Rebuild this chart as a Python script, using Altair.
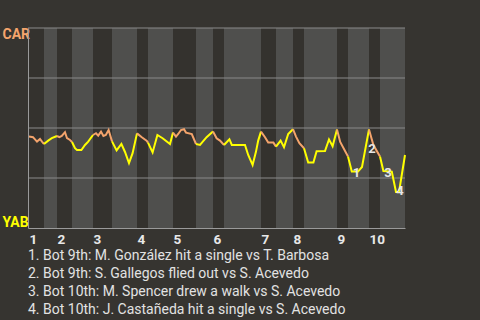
import altair as alt
import pandas as pd

# ---- data ----
# play index (x) and CAR win probability in percent (y)
play = [0, 1, 2, 2.75, 3.25, 3.75,
        4.8, 5.7, 7,
        7.6, 8.2, 9, 9.5, 10.25, 10.75,
        11.5, 12, 13.1, 14, 14.8, 16,
        16.75, 17.3, 18, 18.6, 19.2, 19.9, 20.75,
        21.9, 23.1, 24, 25, 25.9, 27,
        28.2, 29.4, 29.75,
        30.9, 32.1, 33.4, 35.25, 36,
        36.75, 37.3, 38, 38.75, 39.25, 40.7, 41.75,
        42.75, 44.4, 46,
        46.9, 47.75, 48.75,
        50.1, 50.7, 54, 54.8, 55.9, 56.75, 57.3, 58,
        59, 59.8, 61.1, 61.75,
        62.9, 63.75, 64.8, 66,
        66.75, 67.6, 68.75,
        69.8, 71.1, 71.9, 74, 75, 75.9, 77,
        77.8, 79.75,
        80.7, 82.25, 83.25, 85,
        86.1, 87.75,
        88.6, 90.7, 91.75, 92.5, 94]
car_pct = [45.7, 45.4, 43.2, 44.5, 43.2, 42,
           43.7, 44.9, 46,
           45.4, 46, 47.9, 44.9, 44, 43,
           39.9, 39, 39, 41.5, 43.2, 46.5,
           47.4, 46.2, 48.2, 46, 46.5, 49, 43.3,
           38.8, 42, 38, 32.5, 37.4, 47.3,
           45.4, 43.7, 42.7,
           37.8, 46.5, 44.9, 42, 47.7,
           45.7, 47, 49, 49.4, 47.7, 47, 42,
           41.5, 45.4, 48.2,
           44.9, 43.7, 41.5,
           44.4, 41.5, 41.5, 36.5, 31.5, 38.2, 43.7, 48.2,
           45.4, 42.7, 42.7, 40.7,
           43.7, 40.4, 47, 49.4,
           45.7, 42.4, 39.9,
           32.7, 32.7, 38.4, 38.5, 44.3, 40.9, 49.3,
           43, 35.8,
           28.3, 28.2, 30.5, 49.3,
           41.5, 35.7,
           28.5, 28.2, 18, 18, 36.5]
assert len(play) == len(car_pct)

# end of every half-inning (top 1st, bot 1st, top 2nd, ...)
half_ends = [3.75, 7, 10.75, 16, 20.75, 27, 29.75, 36, 41.75, 46,
             48.75, 58, 61.75, 66, 68.75, 77, 79.75, 85, 87.75, 94]
innings = ["1", "2", "3", "4", "5", "6", "7", "8", "9", "10"]
grid_values = [25, 50, 75, 100]

ann_labels = ["1", "2", "3", "4"]
ann_play = [81.9, 85.75, 89.75, 92.75]
ann_pct = [27.4, 39.5, 27.6, 18.5]

notes = [
    "1. Bot 9th: M. González hit a single vs T. Barbosa",
    "2. Bot 9th: S. Gallegos flied out vs S. Acevedo",
    "3. Bot 10th: M. Spencer drew a walk vs S. Acevedo",
    "4. Bot 10th: J. Castañeda hit a single vs S. Acevedo",
]

# ---- tables ----
half_starts = [0] + half_ends[:-1]
bands = pd.DataFrame({
    "start": half_starts,
    "end": half_ends,
    "half": ["top" if i % 2 == 0 else "bot" for i in range(len(half_ends))],
})

rows = []
for i, (s, e) in enumerate(zip(half_starts, half_ends)):
    team = "CAR" if i % 2 == 0 else "YAB"
    for x, y in zip(play, car_pct):
        if s <= x <= e:
            rows.append({"play": x, "pct": y, "seg": i, "team": team})
line_df = pd.DataFrame(rows)

top_starts = half_starts[0::2]
grid_df = pd.DataFrame({"v": grid_values})
ann_df = pd.DataFrame({"label": ann_labels, "play": ann_play, "pct": ann_pct})

ORANGE = "#f4a46c"
YELLOW = "#ffff00"
BG = "#363430"
FONT = "Roboto"

xscale = alt.Scale(domain=[-0.25, 94], nice=False, zero=False)
yscale = alt.Scale(domain=[0, 100], nice=False)

label_expr = "[" + ",".join(str(v) for v in top_starts) + "]"
x_axis = alt.Axis(
    values=top_starts,
    labelExpr=f"indexof({label_expr}, datum.value) + 1",
    title=None, grid=False, ticks=False, tickSize=0,
    domainColor="#9a9a9a", domainWidth=1,
    labelAlign="left", labelBaseline="top", labelPadding=4,
    labelFont=FONT, labelFontSize=13.5, labelFontWeight="bold",
    labelColor="#e8e8e8", labelFlush=False, labelOverlap=False,
)
y_axis = alt.Axis(
    values=[0, 100],
    labelExpr="datum.value >= 50 ? 'CAR' : 'YAB'",
    title=None, grid=False, ticks=False, tickSize=0,
    domainColor="#9a9a9a", domainWidth=1, zindex=1,
    labelAlign="left", labelPadding=26,
    labelFont=FONT, labelFontSize=14, labelFontWeight="bold",
    labelColor={"condition": {"test": "datum.value >= 50", "value": ORANGE}, "value": YELLOW},
    labelBaseline={"condition": {"test": "datum.value >= 50", "value": "top"}, "value": "alphabetic"},
    labelOffset={"condition": {"test": "datum.value >= 50", "value": -1}, "value": -2},
    labelFlush=False, labelOverlap=False,
)

band_layer = alt.Chart(bands).mark_rect().encode(
    x=alt.X("start:Q", scale=xscale, axis=x_axis),
    x2="end:Q",
    color=alt.Color("half:N", scale=alt.Scale(domain=["top", "bot"], range=["#34322e", "#4f4f4d"]), legend=None),
)

grid_layer = alt.Chart(grid_df).mark_rule(color="#8a8a8a", strokeWidth=1).encode(
    y=alt.Y("v:Q", scale=yscale, axis=y_axis),
)

line_layer = alt.Chart(line_df).mark_line(strokeWidth=2).encode(
    x=alt.X("play:Q", scale=xscale),
    y=alt.Y("pct:Q", scale=yscale),
    detail="seg:N",
    color=alt.Color("team:N", scale=alt.Scale(domain=["CAR", "YAB"], range=[ORANGE, YELLOW]), legend=None),
    order="play:Q",
)

ann_layer = alt.Chart(ann_df).mark_text(
    font=FONT, fontSize=13, fontWeight="bold", color="#e6e6e6",
    align="center", baseline="middle",
).encode(
    x=alt.X("play:Q", scale=xscale),
    y=alt.Y("pct:Q", scale=yscale),
    text="label:N",
)

chart = alt.layer(band_layer, grid_layer, line_layer, ann_layer).resolve_scale(
    color="independent"
).properties(
    width=377, height=200,
    autosize="none",
    padding={"left": 28, "top": 28, "right": 75, "bottom": 92},
    title=alt.TitleParams(
        text=notes, orient="bottom", anchor="start", align="left", frame="group",
        font=FONT, fontSize=14, fontWeight="normal", color="#e2e2e2",
        lineHeight=18, offset=3,
    ),
).configure(background=BG).configure_view(stroke=None)

chart.save("out.html", embed_options={"renderer": "svg", "actions": False})
